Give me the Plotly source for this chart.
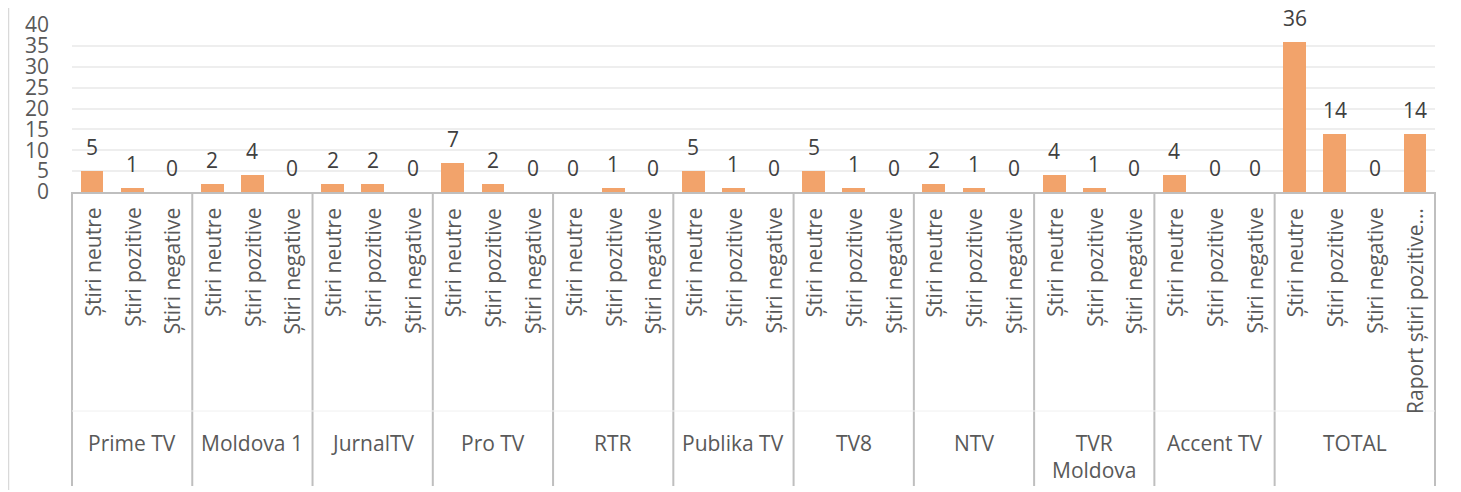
import plotly.graph_objects as go

groups = ["Prime TV", "Moldova 1", "JurnalTV", "Pro TV", "RTR", "Publika TV",
          "TV8", "NTV", "TVR<br>Moldova", "Accent TV", "TOTAL"]
group_cats = [
    ["Știri neutre", "Știri pozitive", "Știri negative"],
] * 10 + [["Știri neutre", "Știri pozitive", "Știri negative", "Raport știri pozitive…"]]
group_values = [
    [5, 1, 0],
    [2, 4, 0],
    [2, 2, 0],
    [7, 2, 0],
    [0, 1, 0],
    [5, 1, 0],
    [5, 1, 0],
    [2, 1, 0],
    [4, 1, 0],
    [4, 0, 0],
    [36, 14, 0, 14],
]

y_ticks = [0, 5, 10, 15, 20, 25, 30, 35, 40]

# flatten
cats, vals, grp_start = [], [], []
for g, cs, vs in zip(groups, group_cats, group_values):
    grp_start.append(len(cats))
    cats.extend(cs)
    vals.extend(vs)
N = len(cats)
xs = list(range(N))

FONT = "Open Sans"
BAR = "#F2A36B"
LINE = "#BFBFBF"
FS = 21

fig = go.Figure()
fig.add_trace(go.Bar(x=xs, y=vals, width=0.57, marker=dict(color=BAR, line=dict(width=0)),
                     hoverinfo="skip"))

ann = []
# data labels
for x, v in zip(xs, vals):
    ann.append(dict(x=x, y=v, xref="x", yref="y", text=str(v), showarrow=False,
                    yanchor="middle", yshift=24,
                    font=dict(family=FONT, size=FS, color="#404040")))
# category labels (rotated)
for x, c in zip(xs, cats):
    ann.append(dict(x=x, y=0, xref="x", yref="paper", text=c, showarrow=False,
                    textangle=-90, xanchor="center", yanchor="top", yshift=-14,
                    font=dict(family=FONT, size=FS, color="#595959")))
# group labels
bounds = grp_start + [N]
for i, g in enumerate(groups):
    cx = (bounds[i] + bounds[i + 1] - 1) / 2
    ann.append(dict(x=cx, y=0, xref="x", yref="paper", text=g, showarrow=False,
                    xanchor="center", yanchor="top", yshift=-235,
                    font=dict(family=FONT, size=FS, color="#595959")))

plot_h = 167
shapes = []
# separators
for b in bounds:
    px = b / N
    shapes.append(dict(type="line", xref="paper", yref="paper", x0=px, x1=px,
                       y0=0, y1=-(294 / plot_h), line=dict(color=LINE, width=2)))
# faint divider between category and group labels
shapes.append(dict(type="line", xref="paper", yref="paper", x0=0, x1=1,
                   y0=-(219 / plot_h), y1=-(219 / plot_h), line=dict(color="#F0F0F0", width=1)))
# chart border left
shapes.append(dict(type="line", xref="paper", yref="paper", x0=-63.5 / 1363, x1=-63.5 / 1363,
                   y0=-(298 / plot_h), y1=1 + 17 / plot_h, line=dict(color="#D9D9D9", width=1.5)))

fig.update_layout(
    width=1453, height=484,
    margin=dict(l=64, r=26, t=17, b=300, autoexpand=False),
    paper_bgcolor="white", plot_bgcolor="white",
    showlegend=False,
    bargap=0,
    annotations=ann, shapes=shapes,
    xaxis=dict(range=[-0.5, N - 0.5], showticklabels=False, showgrid=False, zeroline=False,
               showline=True, linecolor=LINE, linewidth=2, ticks="", automargin=False),
    yaxis=dict(range=[0, 40], tickvals=y_ticks, showgrid=True, gridcolor="#EEEEEE", gridwidth=1.5,
               zeroline=False, showline=False, ticks="", ticklabelstandoff=22, automargin=False,
               tickfont=dict(family=FONT, size=FS, color="#595959")),
)

fig.write_html("out.html")
